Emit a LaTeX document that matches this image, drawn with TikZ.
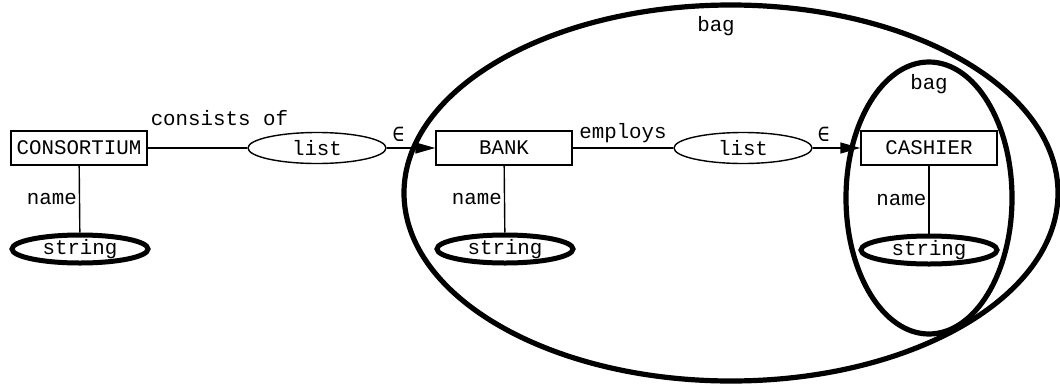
\documentclass[tikz,border=0pt]{standalone}
\usepackage{fontspec}
\setmainfont{Liberation Mono}
\newfontfamily\symfont{DejaVu Sans Mono}
\usetikzlibrary{positioning,arrows.meta,shapes.geometric}

\begin{document}
\begin{tikzpicture}[x=0.5pt,y=-0.5pt,
  entity/.style={draw,line width=0.7pt,minimum width=68pt,minimum height=17pt,inner sep=0pt,font=\fontsize{10.4}{12}\selectfont},
  coll/.style={draw,ellipse,line width=0.7pt,minimum width=69pt,minimum height=15.5pt,inner sep=0pt,font=\fontsize{10.4}{12}\selectfont},
  basetype/.style={draw,ellipse,line width=2.5pt,minimum width=68pt,minimum height=14pt,inner sep=0pt,font=\fontsize{10.4}{12}\selectfont},
  bag/.style={draw,ellipse,line width=2.6pt,inner sep=0pt},
  lbl/.style={font=\fontsize{10.4}{12}\selectfont,inner sep=1pt},
  memb/.style={font=\symfont\fontsize{10}{12}\selectfont,inner sep=1pt,above,yshift=2pt},
  link/.style={line width=0.7pt},
  arr/.style={line width=0.7pt,-{Triangle[length=10pt,width=5.5pt]}}
]
\useasboundingbox (0,0) rectangle (1060,386);

% bags
\node[bag,minimum width=327pt,minimum height=188pt] (bagout) at (731,193) {};
\node[lbl] (bagoutlbl) at (716,26) {bag};
\node[bag,minimum width=83pt,minimum height=136pt] (bagin) at (929,198) {};
\node[lbl] (baginlbl) at (929,84) {bag};

% entities
\node[entity] (consortium) at (79,148) {CONSORTIUM};
\node[entity] (bank) at (504,148) {BANK};
\node[entity] (cashier) at (929,148) {CASHIER};

% collections
\node[coll] (list1) at (317,148) {list};
\node[coll] (list2) at (743,148) {list};

% attribute types
\node[basetype] (str1) at (80,249) {string};
\node[basetype] (str2) at (505,249) {string};
\node[basetype] (str3) at (929,250) {string};

\draw[link] (consortium) -- node[lbl,pos=0.72,above,yshift=10pt] {consists of} (list1);
\draw[arr] (list1) -- node[memb,pos=0.24] {∈} (bank);
\draw[link] (bank) -- node[lbl,midway,above,yshift=1pt] {employs} (list2);
\draw[arr] (list2) -- node[memb,pos=0.23] {∈} (cashier);

\draw[link] (consortium) -- node[lbl,midway,left] {name} (str1);
\draw[link] (bank) -- node[lbl,midway,left] {name} (str2);
\draw[link] (cashier) -- node[lbl,midway,left] {name} (str3);
\end{tikzpicture}
\end{document}
